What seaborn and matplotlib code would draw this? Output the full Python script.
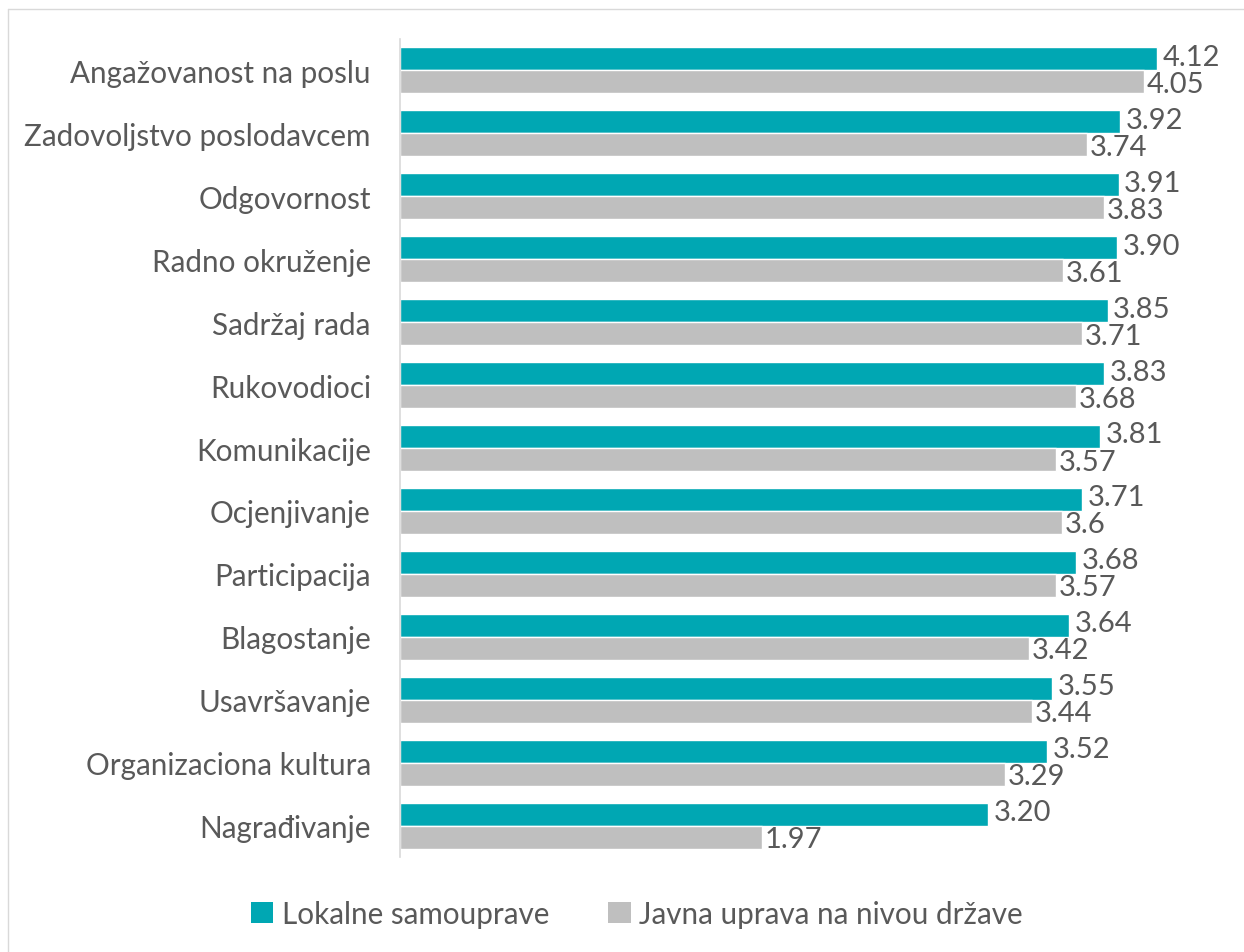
import matplotlib
matplotlib.use("Agg")
import matplotlib.pyplot as plt
import pandas as pd
import seaborn as sns
from matplotlib.lines import Line2D
from matplotlib.patches import Patch

categories = [
    "Angažovanost na poslu",
    "Zadovoljstvo poslodavcem",
    "Odgovornost",
    "Radno okruženje",
    "Sadržaj rada",
    "Rukovodioci",
    "Komunikacije",
    "Ocjenjivanje",
    "Participacija",
    "Blagostanje",
    "Usavršavanje",
    "Organizaciona kultura",
    "Nagrađivanje",
]
series_names = ["Lokalne samouprave", "Javna uprava na nivou države"]
local_values = [4.12, 3.92, 3.91, 3.90, 3.85, 3.83, 3.81, 3.71, 3.68, 3.64, 3.55, 3.52, 3.20]
state_values = [4.05, 3.74, 3.83, 3.61, 3.71, 3.68, 3.57, 3.60, 3.57, 3.42, 3.44, 3.29, 1.97]
local_labels = ["4.12", "3.92", "3.91", "3.90", "3.85", "3.83", "3.81", "3.71", "3.68", "3.64", "3.55", "3.52", "3.20"]
state_labels = ["4.05", "3.74", "3.83", "3.61", "3.71", "3.68", "3.57", "3.6", "3.57", "3.42", "3.44", "3.29", "1.97"]

colors = ["#00A7B3", "#BFBFBF"]
text_color = "#595959"

df = pd.DataFrame({
    "category": categories * 2,
    "series": [series_names[0]] * len(categories) + [series_names[1]] * len(categories),
    "value": local_values + state_values,
})

sns.set_theme(style="white")
plt.rcParams["font.family"] = ["Lato", "DejaVu Sans"]

fig = plt.figure(figsize=(12.44, 9.53), dpi=100)
ax = fig.add_axes([400 / 1244, 1 - 858 / 953, (1227 - 400) / 1244, (858 - 40) / 953])

sns.barplot(
    data=df, x="value", y="category", hue="series",
    order=categories, hue_order=series_names, palette=colors,
    orient="h", width=0.73, saturation=1, legend=False, ax=ax,
)

# value labels; nudge the pair apart a little so they don't collide
for container, labels, pad, dy in zip(ax.containers, [local_labels, state_labels], [4, 2], [1.5, -1.5]):
    for ann in ax.bar_label(container, labels=labels, padding=pad, fontsize=21, color=text_color):
        ann.xyann = (pad, dy)

ax.set_xlim(0, 4.5)
ax.set_ylim(len(categories) - 0.5, -0.5)
ax.set_xlabel("")
ax.set_ylabel("")
ax.set_xticks([])
for side in ["top", "right", "bottom"]:
    ax.spines[side].set_visible(False)
ax.spines["left"].set_color("#D9D9D9")
ax.spines["left"].set_linewidth(1.2)
ax.tick_params(axis="y", length=0, pad=21, labelsize=21.3, labelcolor=text_color)

handles = [Patch(facecolor=c, edgecolor="none") for c in colors]
fig.legend(
    handles, series_names, loc="center", bbox_to_anchor=(0.512, 0.04), ncol=2,
    frameon=False, fontsize=21.3, handlelength=0.75, handleheight=0.75,
    handletextpad=0.3, columnspacing=2.0, labelcolor=text_color,
)

# light chart-area border (top and left visible)
fig.add_artist(Line2D([8 / 1244, 1], [1 - 10 / 953] * 2, color="#D9D9D9", linewidth=1))
fig.add_artist(Line2D([8 / 1244] * 2, [0, 1 - 10 / 953], color="#D9D9D9", linewidth=1))

fig.savefig("out.png", dpi=100)
